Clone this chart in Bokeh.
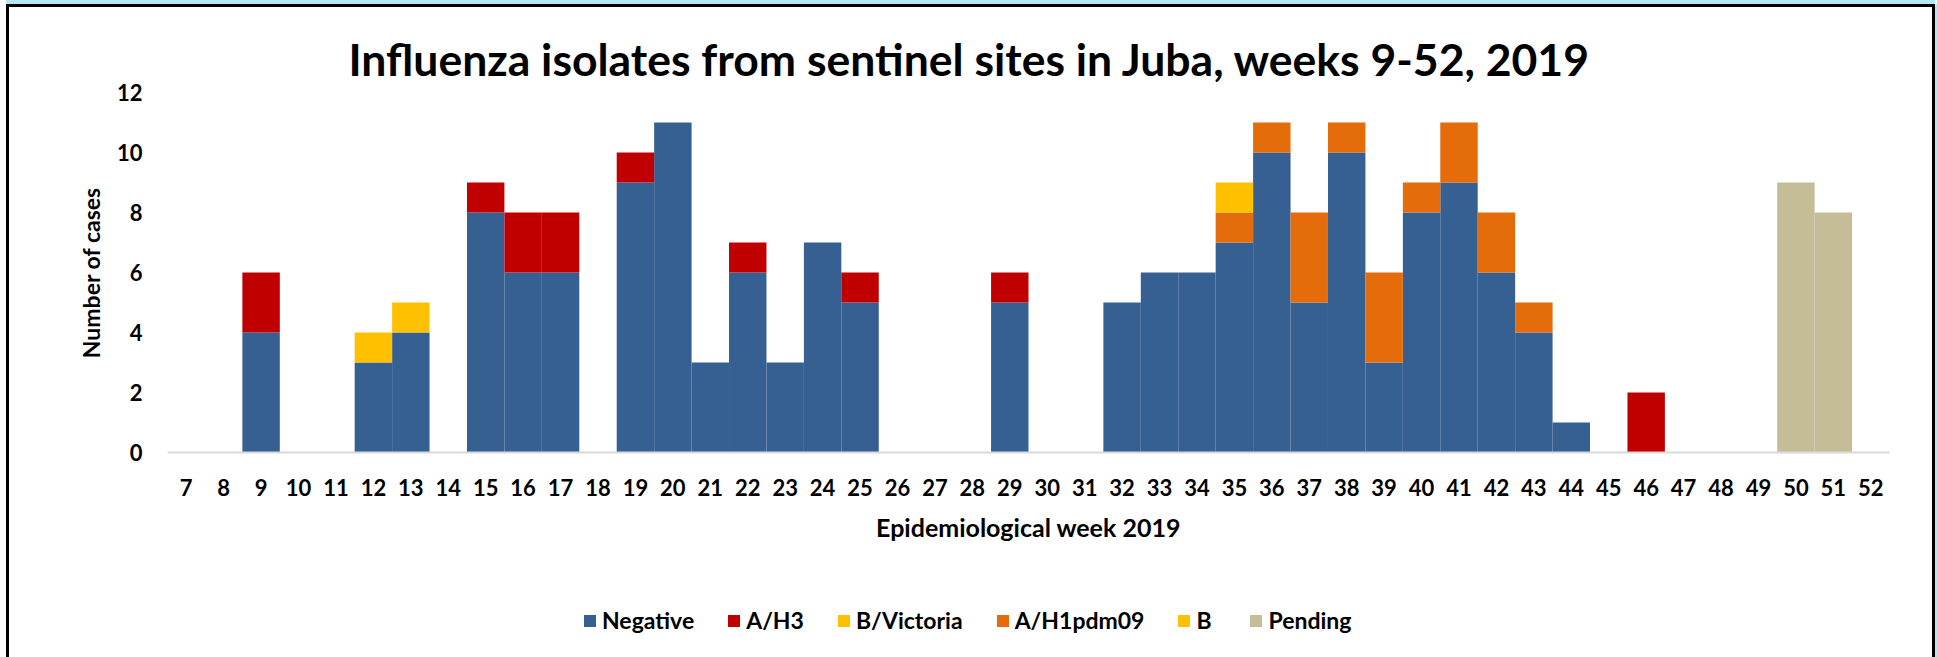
from bokeh.plotting import figure
from bokeh.models import ColumnDataSource, FactorRange, Legend, LegendItem, FixedTicker, Range1d
from bokeh.layouts import column
from bokeh.embed import file_html
from bokeh.resources import INLINE

weeks = [str(w) for w in range(7, 53)]

# values per week 7..52
negative = {9: 4, 12: 3, 13: 4, 15: 8, 16: 6, 17: 6, 19: 9, 20: 11, 21: 3, 22: 6, 23: 3,
            24: 7, 25: 5, 29: 5, 32: 5, 33: 6, 34: 6, 35: 7, 36: 10, 37: 5, 38: 10,
            39: 3, 40: 8, 41: 9, 42: 6, 43: 4, 44: 1}
a_h3 = {9: 2, 15: 1, 16: 2, 17: 2, 19: 1, 22: 1, 25: 1, 29: 1, 46: 2}
b_victoria = {12: 1, 13: 1}
a_h1pdm09 = {35: 1, 36: 1, 37: 3, 38: 1, 39: 3, 40: 1, 41: 2, 42: 2, 43: 1}
b_other = {35: 1}
pending = {50: 9, 51: 8}

series_names = ["Negative", "A/H3", "B/Victoria", "A/H1pdm09", "B", "Pending"]
series_data = [negative, a_h3, b_victoria, a_h1pdm09, b_other, pending]
colors = ["#376092", "#C00000", "#FFC000", "#E46C0A", "#FFC000", "#C4BD97"]
keys = ["neg", "h3", "bvic", "h1", "b", "pend"]
y_ticks = [0, 2, 4, 6, 8, 10, 12]

data = {"week": weeks}
for k, d in zip(keys, series_data):
    data[k] = [d.get(int(w), 0) for w in weeks]
source = ColumnDataSource(data)

FONT = "Lato"
W = 1923

p = figure(x_range=FactorRange(*weeks, range_padding=0), y_range=(0, 12),
           width=W, height=550, output_backend="svg", toolbar_location=None,
           min_border_left=158, min_border_right=43, min_border_top=85,
           min_border_bottom=105)

p.title.text = "Influenza isolates from sentinel sites in Juba, weeks 9-52, 2019"
p.title.align = "left"
p.title.offset = 181
p.title.standoff = 16
p.title.text_font = FONT
p.title.text_font_size = "44.5px"
p.title.text_font_style = "bold"
p.title.text_color = "black"

renderers = p.vbar_stack(keys, x="week", width=1.0, color=colors, source=source,
                         line_color=None)

p.xgrid.visible = False
p.ygrid.visible = False
p.outline_line_color = None
p.background_fill_color = "white"
p.border_fill_color = "white"

p.yaxis.ticker = FixedTicker(ticks=y_ticks)
p.yaxis.axis_line_color = None
p.yaxis.major_tick_line_color = None
p.yaxis.minor_tick_line_color = None
p.yaxis.major_tick_out = 0
p.yaxis.major_tick_in = 0
p.yaxis.major_label_text_font = FONT
p.yaxis.major_label_text_font_style = "bold"
p.yaxis.major_label_text_font_size = "22px"
p.yaxis.major_label_text_color = "black"
p.yaxis.major_label_standoff = 25
p.yaxis.axis_label = "Number of cases"
p.yaxis.axis_label_text_font = FONT
p.yaxis.axis_label_text_font_style = "bold"
p.yaxis.axis_label_text_font_size = "23px"
p.yaxis.axis_label_text_color = "black"
p.yaxis.axis_label_standoff = 9

p.xaxis.axis_line_color = "#D9D9D9"
p.xaxis.axis_line_width = 2
p.xaxis.major_tick_line_color = None
p.xaxis.minor_tick_line_color = None
p.xaxis.major_tick_out = 0
p.xaxis.major_tick_in = 0
p.xaxis.major_label_text_font = FONT
p.xaxis.major_label_text_font_style = "bold"
p.xaxis.major_label_text_font_size = "22px"
p.xaxis.major_label_text_color = "black"
p.xaxis.major_label_standoff = 26
p.xaxis.axis_label = "Epidemiological week 2019"
p.xaxis.axis_label_text_font = FONT
p.xaxis.axis_label_text_font_style = "bold"
p.xaxis.axis_label_text_font_size = "25px"
p.xaxis.axis_label_text_color = "black"
p.xaxis.axis_label_standoff = 13

# legend strip below the chart
lf = figure(x_range=p.x_range, y_range=Range1d(100, 101), width=W, height=100,
            output_backend="svg", toolbar_location=None, x_axis_type=None,
            y_axis_type=None, min_border=0)
lf.xgrid.visible = False
lf.ygrid.visible = False
lf.outline_line_color = None
lf.background_fill_color = "white"
lf.border_fill_color = "white"
lrs = lf.vbar_stack(keys, x="week", width=1.0, color=colors, source=source, line_color=None)

legend = Legend(items=[LegendItem(label=n, renderers=[r]) for n, r in zip(series_names, lrs)],
                orientation="horizontal", location=(415, 23))
legend.label_text_font = FONT
legend.label_text_font_style = "bold"
legend.label_text_font_size = "23px"
legend.label_text_color = "black"
legend.glyph_width = 15
legend.glyph_height = 15
legend.spacing = 32
legend.label_standoff = 5
legend.padding = 0
legend.margin = 0
legend.border_line_color = None
legend.background_fill_alpha = 0
lf.add_layout(legend)

layout = column(p, lf, styles={
    "margin": "4px 0px 0px 6px",
    "border-top": "3px solid black",
    "border-left": "3px solid black",
    "border-right": "3px solid black",
    "background-color": "white",
    "box-shadow": "0px -4px 0px 0px #B7E6F9, 8px 0px 0px 0px #B7E6F9",
})

open("out.html", "w").write(file_html(layout, INLINE))
